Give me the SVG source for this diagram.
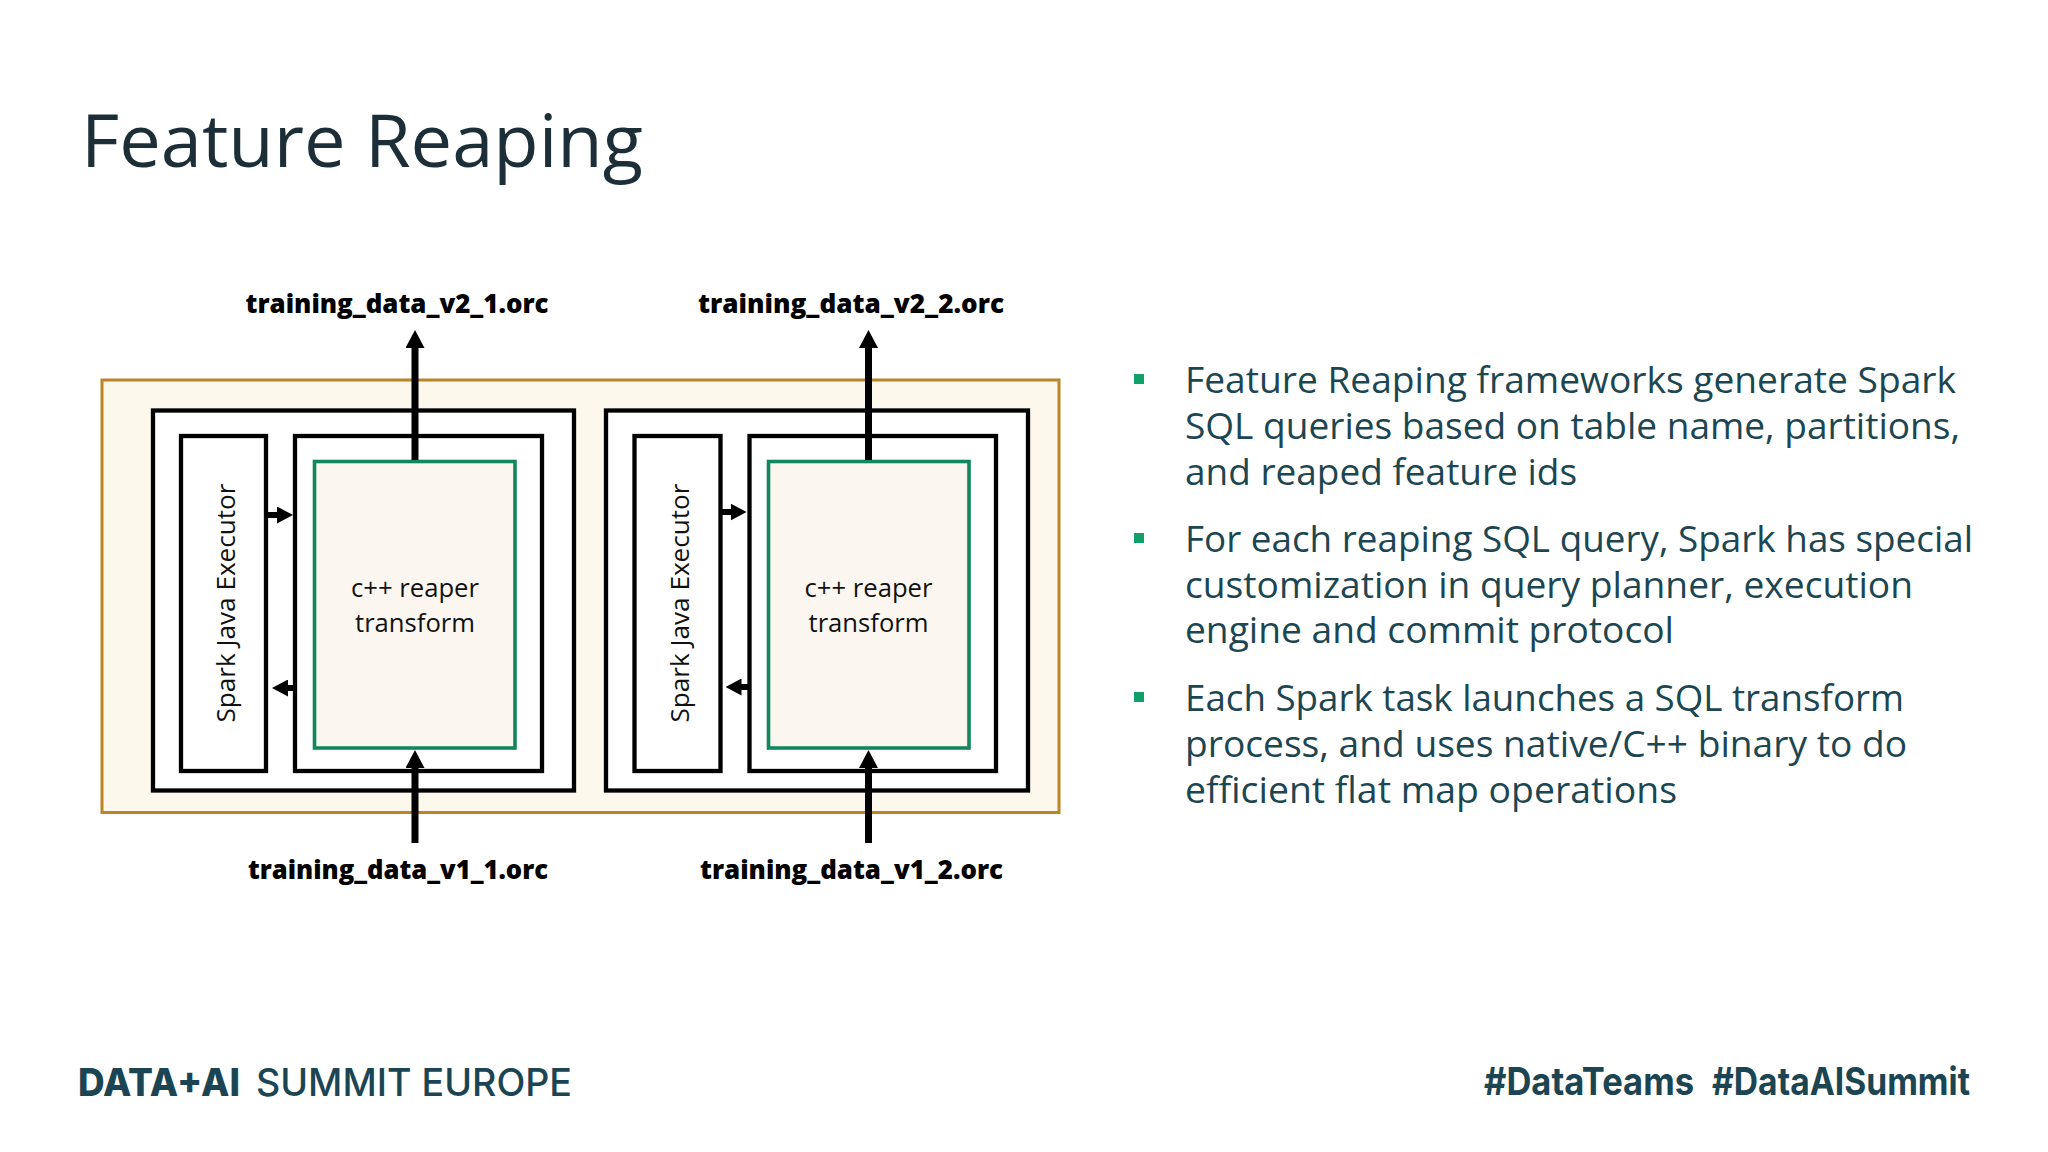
<svg xmlns="http://www.w3.org/2000/svg" width="2048" height="1152" viewBox="0 0 2048 1152">
<defs>
<style>
.blk{fill:#ffffff;stroke:#000;stroke-width:4.3}
.grn{fill:#fbf7f0;stroke:#12875e;stroke-width:3.6}
.org{fill:#fdf8ec;stroke:#bd8427;stroke-width:3}
.lbl{font-family:"Open Sans",sans-serif;font-weight:800;font-size:26px;fill:#000;text-anchor:middle}
.box{font-family:"Open Sans",sans-serif;font-size:25px;fill:#111;text-anchor:middle}
.bul{font-family:"Open Sans",sans-serif;font-size:36px;fill:#1c4651}
.sq{fill:#12a06a}
.conn{stroke:#000;fill:none}
.big{stroke-width:7;marker-end:url(#ahBig)}
.small{stroke-width:6;marker-end:url(#ahSmall)}
.ft{font-family:Inter,"Liberation Sans",sans-serif;fill:#1b4553;font-size:38px}
</style>
<marker id="ahBig" markerUnits="userSpaceOnUse" viewBox="0 0 18 19" markerWidth="18" markerHeight="19" refX="2" refY="9.5" orient="auto"><path d="M0,0L18,9.5L0,19z" fill="#000"/></marker>
<marker id="ahSmall" markerUnits="userSpaceOnUse" viewBox="0 0 16 17" markerWidth="16" markerHeight="17" refX="2" refY="8.5" orient="auto"><path d="M0,0L16,8.5L0,17z" fill="#000"/></marker>
</defs>
<rect width="2048" height="1152" fill="#ffffff"/>
<text id="title" x="81" y="167" font-family="'Open Sans',sans-serif" font-size="73" fill="#1c2f38" textLength="562" lengthAdjust="spacingAndGlyphs">Feature Reaping</text>

<g id="container"><rect class="org" x="102" y="380" width="957" height="432.5"/></g>

<g id="task1"><rect class="blk" x="153" y="410.5" width="421" height="380"/></g>
<g id="executor1"><rect class="blk" x="181" y="436" width="85" height="335"/>
<text class="box" transform="translate(235,603) rotate(-90)" textLength="239" lengthAdjust="spacingAndGlyphs">Spark Java Executor</text></g>
<g id="transformHost1"><rect class="blk" x="295" y="436" width="247" height="335"/></g>
<g id="reaper1"><rect class="grn" x="314.5" y="461.5" width="200.5" height="286.5"/>
<text class="box" x="415" y="597" textLength="128" lengthAdjust="spacingAndGlyphs">c++ reaper</text>
<text class="box" x="415" y="632" textLength="120" lengthAdjust="spacingAndGlyphs">transform</text></g>

<g id="task2"><rect class="blk" x="606" y="410.5" width="422" height="380"/></g>
<g id="executor2"><rect class="blk" x="634.5" y="436" width="86" height="335"/>
<text class="box" transform="translate(688.5,603) rotate(-90)" textLength="239" lengthAdjust="spacingAndGlyphs">Spark Java Executor</text></g>
<g id="transformHost2"><rect class="blk" x="749.5" y="436" width="246.5" height="335"/></g>
<g id="reaper2"><rect class="grn" x="768.5" y="461.5" width="200.5" height="286.5"/>
<text class="box" x="868.5" y="597" textLength="128" lengthAdjust="spacingAndGlyphs">c++ reaper</text>
<text class="box" x="868.5" y="632" textLength="120" lengthAdjust="spacingAndGlyphs">transform</text></g>

<g id="out1"><text class="lbl" x="397" y="313" textLength="303" lengthAdjust="spacingAndGlyphs">training_data_v2_1.orc</text></g>
<g id="out2"><text class="lbl" x="851" y="313" textLength="306" lengthAdjust="spacingAndGlyphs">training_data_v2_2.orc</text></g>
<g id="in1"><text class="lbl" x="398" y="879" textLength="300" lengthAdjust="spacingAndGlyphs">training_data_v1_1.orc</text></g>
<g id="in2"><text class="lbl" x="851.5" y="879" textLength="303" lengthAdjust="spacingAndGlyphs">training_data_v1_2.orc</text></g>

<g id="connectors" class="conn">
<path class="big" d="M415,460V346"/>
<path class="big" d="M868.5,460V346"/>
<path class="big" d="M415,843V766"/>
<path class="big" d="M868.5,843V766"/>
<path class="small" d="M268,515H279"/>
<path class="small" d="M297,688H286"/>
<path class="small" d="M722,512H732.5"/>
<path class="small" d="M751,687H739.5"/>
</g>

<g id="bullets">
<rect class="sq" x="1134" y="374" width="10" height="10"/>
<rect class="sq" x="1134" y="533" width="10" height="10"/>
<rect class="sq" x="1134" y="692" width="10" height="10"/>
<text class="bul" x="1185" y="393" textLength="771" lengthAdjust="spacingAndGlyphs">Feature Reaping frameworks generate Spark</text>
<text class="bul" x="1185" y="439" textLength="775" lengthAdjust="spacingAndGlyphs">SQL queries based on table name, partitions,</text>
<text class="bul" x="1185" y="485" textLength="392" lengthAdjust="spacingAndGlyphs">and reaped feature ids</text>
<text class="bul" x="1185" y="552" textLength="788" lengthAdjust="spacingAndGlyphs">For each reaping SQL query, Spark has special</text>
<text class="bul" x="1185" y="598" textLength="728" lengthAdjust="spacingAndGlyphs">customization in query planner, execution</text>
<text class="bul" x="1185" y="643" textLength="489" lengthAdjust="spacingAndGlyphs">engine and commit protocol</text>
<text class="bul" x="1185" y="711" textLength="719" lengthAdjust="spacingAndGlyphs">Each Spark task launches a SQL transform</text>
<text class="bul" x="1185" y="757" textLength="722" lengthAdjust="spacingAndGlyphs">process, and uses native/C++ binary to do</text>
<text class="bul" x="1185" y="803" textLength="492" lengthAdjust="spacingAndGlyphs">efficient flat map operations</text>
</g>

<g id="footer">
<text class="ft" x="78" y="1096" font-weight="800" textLength="162" lengthAdjust="spacingAndGlyphs">DATA+AI</text>
<text class="ft" x="256" y="1096" font-weight="500" textLength="316" lengthAdjust="spacingAndGlyphs">SUMMIT EUROPE</text>
<text class="ft" x="1484" y="1095" font-weight="700" font-size="36" textLength="210" lengthAdjust="spacingAndGlyphs">#DataTeams</text>
<text class="ft" x="1712" y="1095" font-weight="700" font-size="36" textLength="258" lengthAdjust="spacingAndGlyphs">#DataAISummit</text>
</g>
</svg>
